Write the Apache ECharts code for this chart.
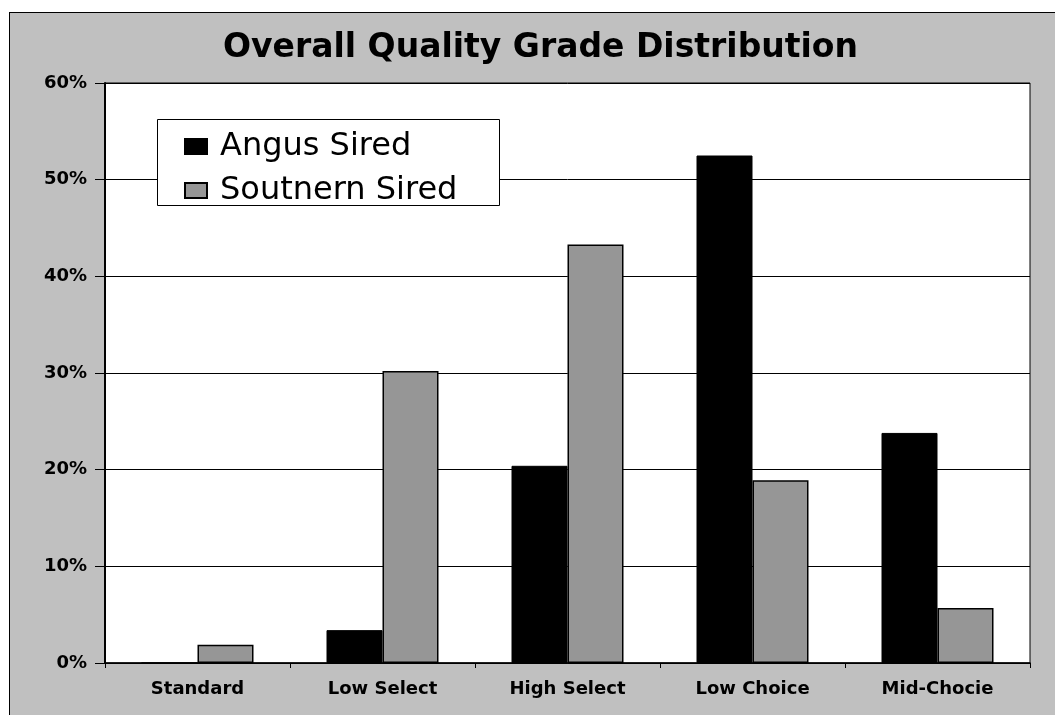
<!DOCTYPE html>
<html>
<head>
<meta charset="utf-8">
<script src="https://cdn.jsdelivr.net/npm/echarts@6/dist/echarts.min.js"></script>
<style>
  html, body { margin: 0; padding: 0; background: #fff; overflow: hidden; }
  .page { position: absolute; left: 0; top: 0; width: 1055px; height: 715px; overflow: hidden; }
  .frame { position: absolute; left: 9px; top: 12px; width: 1100px; height: 800px; background: #c0c0c0; border: 1px solid #000; }
  #main { position: absolute; left: 0; top: 0; width: 1055px; height: 715px; }
</style>
</head>
<body>
<div class="page">
  <div class="frame"></div>
  <div id="main"></div>
</div>
<script>
// grades along the x axis
var categories = ['Standard', 'Low Select', 'High Select', 'Low Choice', 'Mid-Chocie']
// percent of cattle in each grade
var angusSired = [0, 3.4, 20.4, 52.5, 23.8]
var southernSired = [1.9, 30.2, 43.3, 18.9, 5.7]
var seriesNames = ['Angus Sired', 'Soutnern Sired']

var myChart = echarts.init(document.getElementById('main'))

var labelFont = {
  fontFamily: 'DejaVu Sans',
  fontWeight: 'bold',
  fontSize: 18,
  color: '#000'
}

var option = {
  backgroundColor: 'transparent',
  animation: false,
  title: {
    text: 'Overall Quality Grade Distribution',
    left: 218,
    top: 27,
    textStyle: {
      fontFamily: 'DejaVu Sans',
      fontWeight: 'bold',
      fontSize: 33,
      color: '#000'
    }
  },
  graphic: [
    {
      type: 'rect',
      z: 3,
      shape: { x: 157.5, y: 119.5, width: 342, height: 86 },
      style: { fill: '#fff', stroke: '#000', lineWidth: 1 }
    }
  ],
  legend: {
    orient: 'vertical',
    left: 179,
    top: 125,
    itemGap: 11,
    itemWidth: 22,
    itemHeight: 15,
    icon: 'rect',
    data: seriesNames,
    textStyle: {
      fontFamily: 'DejaVu Sans',
      fontSize: 32,
      lineHeight: 33,
      color: '#000',
      padding: [0, 0, 0, 8]
    }
  },
  grid: {
    left: 105,
    top: 83,
    right: 25,
    bottom: 52,
    show: true,
    backgroundColor: '#fff',
    borderColor: '#000',
    borderWidth: 1
  },
  xAxis: {
    type: 'category',
    data: categories,
    axisLine: { lineStyle: { color: '#000', width: 1.5 } },
    axisTick: { show: true, length: 5, lineStyle: { color: '#000' } },
    axisLabel: Object.assign({ margin: 17 }, labelFont)
  },
  yAxis: {
    type: 'value',
    min: 0,
    max: 60,
    interval: 10,
    axisLine: { show: true, lineStyle: { color: '#000', width: 2 } },
    axisTick: { show: true, length: 10, lineStyle: { color: '#000' } },
    axisLabel: Object.assign({ margin: 18, formatter: '{value}%' }, labelFont),
    splitLine: { show: true, lineStyle: { color: '#000', width: 1 } }
  },
  series: [
    {
      name: seriesNames[0],
      type: 'bar',
      barWidth: 56,
      barGap: '0%',
      data: angusSired,
      itemStyle: { color: '#000', borderColor: '#000', borderWidth: 1 }
    },
    {
      name: seriesNames[1],
      type: 'bar',
      barWidth: 56,
      barGap: '0%',
      data: southernSired,
      itemStyle: { color: '#969696', borderColor: '#000', borderWidth: 1.5 }
    }
  ]
}

myChart.setOption(option, true)
</script>
</body>
</html>
